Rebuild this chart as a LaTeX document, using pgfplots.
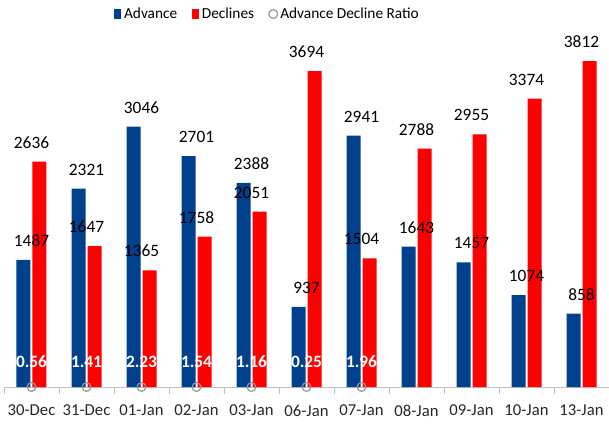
\documentclass[border=0pt]{standalone}
\usepackage{pgfplots}
\pgfplotsset{compat=1.18}
\usepackage{fontspec}
\setmainfont{Carlito}
\definecolor{advblue}{RGB}{0,64,140}
\definecolor{decred}{RGB}{255,0,0}
\definecolor{ratiogrey}{RGB}{150,150,150}
\begin{document}
\begin{tikzpicture}
\begin{axis}[
  width=453.75pt, height=264pt, scale only axis,
  at={(0,0)}, anchor=south west,
  xmin=-0.5, xmax=10.5, ymin=0, ymax=4117,
  clip=false,
  axis x line*=bottom, axis y line=none,
  x axis line style={draw=black!25},
  xtick={0,...,10},
  xticklabels={30-Dec,31-Dec,01-Jan,02-Jan,03-Jan,06-Jan,07-Jan,08-Jan,09-Jan,10-Jan,13-Jan},
  major tick length=0pt,
  extra x ticks={-0.5,0.5,1.5,2.5,3.5,4.5,5.5,6.5,7.5,8.5,9.5,10.5},
  extra x tick labels={},
  extra x tick style={major tick length=5pt, tick align=outside, tick style={draw=black!25}},
  xticklabel style={font=\fontsize{12.5}{14}\selectfont, text=black!85, yshift=-10pt},
  /pgf/number format/assume math mode=true,
  /pgf/number format/set thousands separator={},
  legend columns=-1,
  legend style={at={(axis description cs:0.436,1)}, anchor=center, yshift=15.75pt,
    draw=none, fill=none, font=\fontsize{11.5}{13}\selectfont,
    /tikz/every even column/.append style={column sep=9pt}},
]
\addplot[ybar, bar width=10.5pt, bar shift=-6pt, fill=advblue, draw=none,
  nodes near coords, every node near coord/.append style={font=\fontsize{13}{15}\selectfont, text=black, yshift=6.5pt},
  legend image code/.code={\fill[advblue] (0pt,-3.8pt) rectangle (5.5pt,3.8pt);}]
  coordinates {(0,1487) (1,2321) (2,3046) (3,2701) (4,2388) (5,937) (6,2941) (7,1643) (8,1457) (9,1074) (10,858)};
\addlegendentry{Advance}
\addplot[ybar, bar width=10.5pt, bar shift=6pt, fill=decred, draw=none,
  nodes near coords, every node near coord/.append style={font=\fontsize{13}{15}\selectfont, text=black, yshift=6.5pt},
  legend image code/.code={\fill[decred] (0pt,-3.8pt) rectangle (5.5pt,3.8pt);}]
  coordinates {(0,2636) (1,1647) (2,1365) (3,1758) (4,2051) (5,3694) (6,1504) (7,2788) (8,2955) (9,3374) (10,3812)};
\addlegendentry{Declines}
\addplot[only marks, mark=o, mark size=3.3pt, mark options={draw=ratiogrey, line width=0.9pt},
  point meta=explicit symbolic, nodes near coords,
  every node near coord/.append style={font=\bfseries\fontsize{13}{15}\selectfont, text=white, anchor=center, yshift=18.75pt}]
  coordinates {(0,0) [0.56] (1,0) [1.41] (2,0) [2.23] (3,0) [1.54] (4,0) [1.16] (5,0) [0.25] (6,0) [1.96]};
\addlegendentry{Advance Decline Ratio}
\end{axis}
\pgfresetboundingbox
\path[use as bounding box] (-3pt,-28.5pt) rectangle (453.75pt,290.25pt);
\end{tikzpicture}
\end{document}
